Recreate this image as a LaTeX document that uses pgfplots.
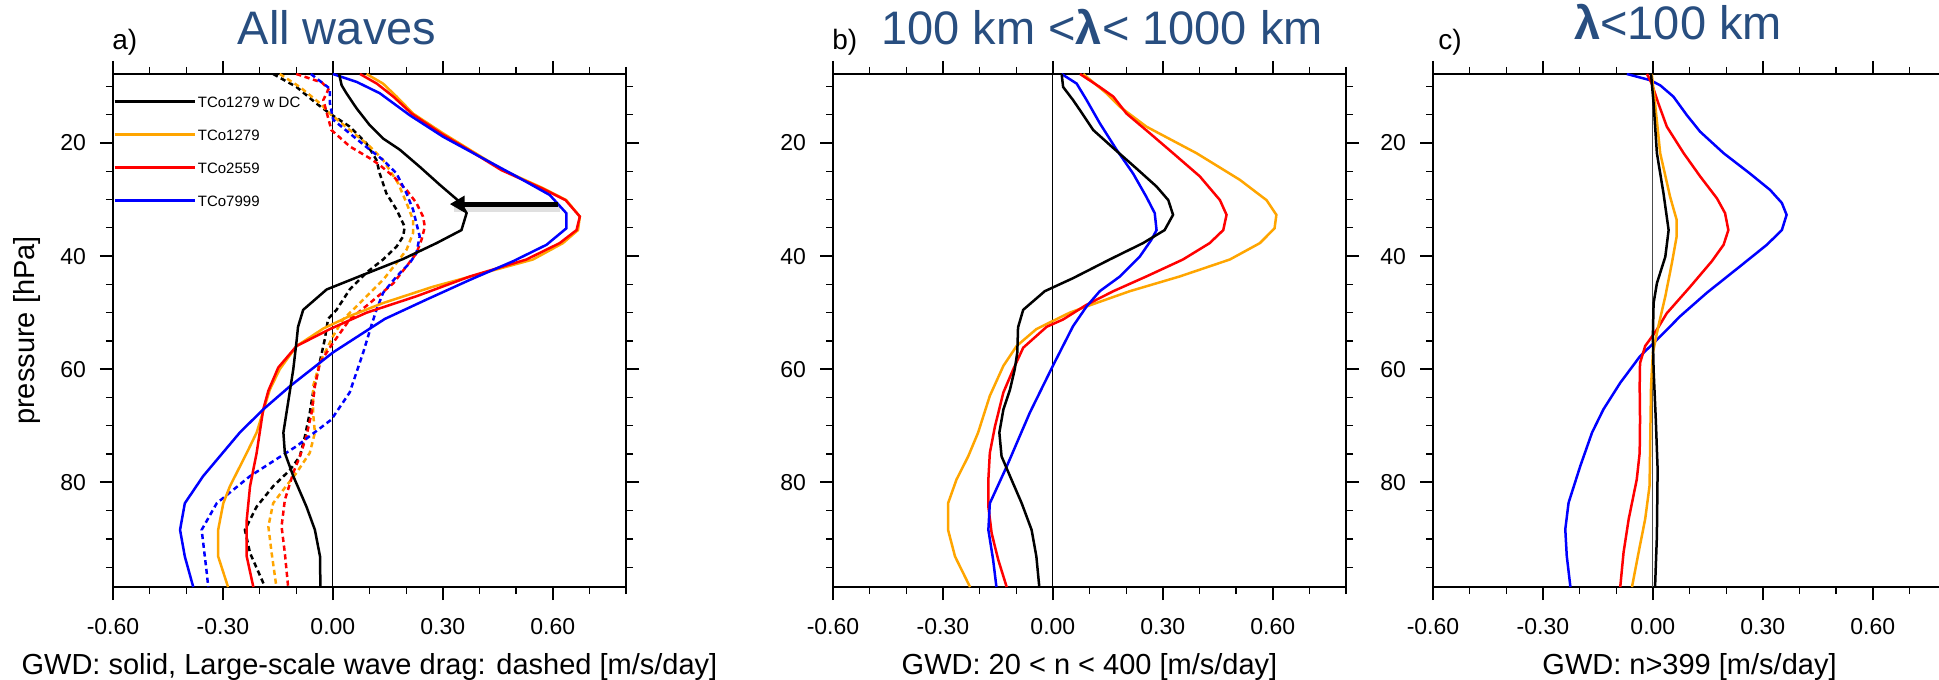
\documentclass[border=0pt]{standalone}
\usepackage{pgfplots}
\pgfplotsset{compat=1.18}
\usepackage{fontspec}
\setmainfont{Liberation Sans}
\usetikzlibrary{arrows.meta}
\definecolor{titleblue}{RGB}{40,78,128}
\definecolor{nclorange}{RGB}{255,165,0}

\pgfplotsset{
  gwd/.style={
    scale only axis, width=256.5pt, height=256.5pt,
    xmin=-0.6, xmax=0.8, ymin=7.8, ymax=98.5, y dir=reverse,
    xtick={-0.6,-0.3,0,0.3,0.6},
    xticklabels={-0.60,-0.30,0.00,0.30,0.60},
    minor xtick={-0.5,-0.4,-0.2,-0.1,0.1,0.2,0.4,0.5,0.7,0.8},
    ytick={20,40,60,80},
    minor ytick={10,15,25,30,35,45,50,55,65,70,75,85,90,95},
    tick align=outside,
    major tick length=6.5pt, minor tick length=3.5pt,
    major tick style={line width=1pt, black},
    minor tick style={line width=0.6pt, black},
    axis line style={line width=1.3pt},
    tick label style={font=\fontsize{11.5}{12}\selectfont},
    xticklabel style={yshift=-5.5pt},
    yticklabel style={xshift=-3.5pt},
    label style={font=\fontsize{14.5}{16}\selectfont},
    xlabel style={at={(axis description cs:0.5,-0.1696)}, anchor=base},
    /pgf/number format/assume math mode=true,
    every axis plot/.append style={line width=1.25pt},
  },
  dsh/.style={dash pattern=on 2.6pt off 1.8pt},
}

\begin{document}
\begin{tikzpicture}
\useasboundingbox (0,0) rectangle (969.5pt,340pt);

% ---------------- a) all waves
\begin{axis}[gwd, at={(56.5pt,46.5pt)}, anchor=south west,
  xlabel={GWD: solid, Large-scale wave drag: dashed [m/s/day]},
  ylabel={pressure [hPa]},
  ylabel style={at={(axis description cs:-0.1676,0.5)}, anchor=center},
  legend style={draw=none, fill=none, inner sep=0pt, at={(axis cs:-0.6,12.6)},
    anchor=north west, yshift=2.85pt, row sep=10.8pt, column sep=1pt,
    font=\fontsize{7.5}{8}\selectfont,
    nodes={inner sep=0pt, text height=5.7pt, text depth=0pt}},
  legend cell align=left,
  legend image code/.code={\draw[#1] (0pt,0pt) -- (40pt,0pt);},
]
\addlegendimage{black, line width=1.25pt}
\addlegendentry{TCo1279 w DC}
\addlegendimage{nclorange, line width=1.25pt}
\addlegendentry{TCo1279}
\addlegendimage{red, line width=1.25pt}
\addlegendentry{TCo2559}
\addlegendimage{blue, line width=1.25pt}
\addlegendentry{TCo7999}

\draw[line width=0.5pt] (axis cs:0,7.8) -- (axis cs:0,98.5);

% large-scale wave drag (dashed)
\addplot[forget plot, black, dsh] coordinates {
(-0.163,7.8) (-0.099,10.1) (-0.045,13) (-0.008,14.8) (0.046,17.1) (0.092,20.1)
(0.119,23) (0.128,25.4) (0.146,28.9) (0.174,31.8) (0.196,34.8) (0.192,36.5)
(0.174,38.3) (0.137,40.6) (0.092,42.9) (0.046,45.9) (0.01,49.5) (-0.013,51.1)
(-0.022,54.7) (-0.04,60) (-0.054,64.1) (-0.063,67.7) (-0.076,71.8) (-0.09,75.4)
(-0.117,77.8) (-0.163,80.7) (-0.208,84.3) (-0.24,88.4) (-0.226,92.5) (-0.185,98.5)};
\addplot[forget plot, nclorange, dsh] coordinates {
(-0.145,7.8) (-0.09,10.1) (-0.035,13) (-0.008,14.8) (0.046,17.7) (0.101,20.6)
(0.137,23) (0.155,24.8) (0.178,27.1) (0.201,30.6) (0.219,33.6) (0.219,35.9)
(0.201,38.9) (0.174,41.2) (0.137,44.2) (0.083,47.7) (0.028,51.2) (0.001,54.1)
(-0.035,58.8) (-0.054,63) (-0.054,67.7) (-0.049,71.2) (-0.063,74.8) (-0.099,78.3)
(-0.135,81.3) (-0.163,83.7) (-0.176,87.8) (-0.167,92.5) (-0.154,98.5)};
\addplot[forget plot, red, dsh] coordinates {
(-0.1,7.8) (-0.03,9.3) (-0.012,10.5) (-0.026,12.4) (-0.004,17.7) (0.046,20.6)
(0.101,22.7) (0.128,23.9) (0.165,25.9) (0.201,28.3) (0.228,30.6) (0.246,33)
(0.251,34.8) (0.242,37.1) (0.228,39.5) (0.201,41.8) (0.165,44.8) (0.101,48.3)
(0.046,51.2) (0.001,55.3) (-0.035,58.8) (-0.049,63) (-0.058,67.7) (-0.072,71.8)
(-0.09,75.4) (-0.108,78.3) (-0.131,83.1) (-0.14,87.8) (-0.131,92.5) (-0.122,98.5)};
\addplot[forget plot, blue, dsh] coordinates {
(-0.06,7.8) (-0.008,10.4) (-0.008,13) (0.001,15.9) (0.046,18.3) (0.101,21.2)
(0.137,23) (0.174,25.4) (0.201,28.9) (0.219,31.8) (0.228,34.2) (0.237,36.5)
(0.228,39.5) (0.21,41.2) (0.174,43.6) (0.137,46.5) (0.119,49.5) (0.105,52.3)
(0.083,57) (0.046,64.1) (-0.004,68.9) (-0.099,73.6) (-0.226,78.9) (-0.317,83.7)
(-0.358,88.4) (-0.345,95.5) (-0.34,98.5)};

% GWD (solid)
\addplot[forget plot, nclorange] coordinates {
(0.092,7.8) (0.137,9.5) (0.174,11.8) (0.219,14.8) (0.301,18.3) (0.374,21.2)
(0.465,24.8) (0.574,28) (0.637,30.1) (0.674,33) (0.669,35.4) (0.628,37.7)
(0.546,40.6) (0.41,43) (0.274,45.4) (0.137,48.3) (0.046,50.6) (-0.026,52.8)
(-0.099,55.9) (-0.145,60) (-0.172,63.6) (-0.208,71.2) (-0.235,74.8) (-0.281,80.7)
(-0.299,83.7) (-0.313,88.4) (-0.313,93.1) (-0.286,98.5)};
\addplot[forget plot, red] coordinates {
(0.074,7.8) (0.12,9.5) (0.165,11.8) (0.215,14.8) (0.295,18.3) (0.37,21.2)
(0.46,24.8) (0.57,28) (0.635,30.1) (0.674,33) (0.665,35.4) (0.619,37.7)
(0.528,40.6) (0.374,43.6) (0.228,47.1) (0.092,50) (-0.008,52.9) (-0.099,55.9)
(-0.149,59.7) (-0.176,63.8) (-0.19,67.1) (-0.208,74.8) (-0.226,80.7) (-0.235,86.6)
(-0.235,93.1) (-0.217,98.5)};
\addplot[forget plot, blue] coordinates {
(0.0,7.8) (0.065,9.2) (0.128,11.2) (0.21,15.1) (0.301,18.9) (0.392,22.1)
(0.501,25.9) (0.592,29.2) (0.637,32.4) (0.637,35.1) (0.583,38) (0.492,40.9)
(0.374,44.2) (0.255,47.7) (0.142,51.1) (0.001,57) (-0.117,63) (-0.19,67.1)
(-0.254,71.2) (-0.354,78.9) (-0.404,83.7) (-0.417,88.4) (-0.404,93.1) (-0.381,98.5)};
\addplot[forget plot, black] coordinates {
(0.017,7.8) (0.024,9.8) (0.037,11.2) (0.065,13.9) (0.10,16.8) (0.137,19.2)
(0.183,21.2) (0.237,24.2) (0.292,27.4) (0.346,30.4) (0.365,32.4) (0.351,35.4)
(0.283,37.7) (0.192,40.5) (0.083,43.3) (-0.017,45.9) (-0.081,49.5) (-0.095,52.5)
(-0.099,55) (-0.108,60) (-0.12,65) (-0.135,71.2) (-0.131,74.8) (-0.108,78.9)
(-0.072,84.3) (-0.049,88.4) (-0.035,93.1) (-0.034,98.5)};

% arrow annotation
\draw[line width=4pt, black, opacity=0.12] (axis cs:0.62,31.5) -- (axis cs:0.33,31.5);
\draw[line width=2.5pt, -{Triangle[length=7.5pt,width=8pt]}] (axis cs:0.615,30.8) -- (axis cs:0.319,30.8);
\end{axis}

% ---------------- b) 100 km < lambda < 1000 km
\begin{axis}[gwd, at={(416.5pt,46.5pt)}, anchor=south west,
  xlabel={GWD: 20 < n < 400 [m/s/day]}]
\draw[line width=0.5pt] (axis cs:0,7.8) -- (axis cs:0,98.5);
\addplot[nclorange] coordinates {
(0.083,7.8) (0.146,11.2) (0.183,13.6) (0.255,17.1) (0.392,21.8) (0.51,26.5)
(0.583,30.1) (0.61,32.7) (0.605,35.1) (0.565,37.7) (0.483,40.6) (0.346,43.6)
(0.21,46.2) (0.092,48.9) (0.046,50) (-0.045,52.9) (-0.099,55.9) (-0.135,59.4)
(-0.172,64.7) (-0.204,71.2) (-0.231,75.4) (-0.263,79.5) (-0.286,83.7) (-0.286,88.4)
(-0.267,93.1) (-0.226,98.5)};
\addplot[red] coordinates {
(0.074,7.8) (0.128,10.1) (0.165,11.8) (0.201,14.8) (0.265,18.3) (0.328,21.8)
(0.401,25.9) (0.456,30.1) (0.474,32.7) (0.465,35.4) (0.428,37.7) (0.355,40.6)
(0.255,43.6) (0.165,46.2) (0.092,48.6) (0.028,51.2) (-0.017,52.5) (-0.081,56.2)
(-0.108,60) (-0.135,64.1) (-0.158,70.1) (-0.172,74.8) (-0.176,79.5) (-0.176,84.3)
(-0.167,89) (-0.149,93.7) (-0.126,98.5)};
\addplot[blue] coordinates {
(0.024,7.8) (0.065,9.5) (0.092,12.4) (0.128,16.5) (0.174,21.2) (0.219,25.4)
(0.255,29.5) (0.278,32.4) (0.283,35.4) (0.269,37.1) (0.237,40.1) (0.183,43.6)
(0.128,46.2) (0.092,48.9) (0.055,52.4) (0,59.4) (-0.063,67.7) (-0.126,77.2)
(-0.172,83.7) (-0.176,88.4) (-0.163,93.7) (-0.154,98.5)};
\addplot[black] coordinates {
(0.024,7.8) (0.028,10.1) (0.055,12.4) (0.074,14.2) (0.11,17.7) (0.165,20.9)
(0.228,24.5) (0.283,27.7) (0.315,30.1) (0.328,32.7) (0.305,35.4) (0.246,37.7)
(0.155,40.6) (0.055,43.9) (-0.022,46.2) (-0.081,49.5) (-0.095,52.6) (-0.097,57)
(-0.104,60) (-0.117,63.6) (-0.135,67.1) (-0.146,71.2) (-0.14,75.4) (-0.117,78.9)
(-0.085,83.7) (-0.058,88.4) (-0.045,93.1) (-0.037,98.5)};
\end{axis}

% ---------------- c) lambda < 100 km
\begin{axis}[gwd, at={(716.5pt,46.5pt)}, anchor=south west,
  xlabel={GWD: n>399 [m/s/day]}]
\draw[line width=0.5pt, black!70] (axis cs:0,7.8) -- (axis cs:0,98.5);
\addplot[blue] coordinates {
(-0.071,7.8) (-0.007,8.9) (0.02,9.8) (0.056,11.8) (0.093,15.1) (0.129,18)
(0.193,21.8) (0.265,25.4) (0.32,28.3) (0.352,30.6) (0.365,32.7) (0.352,35.4)
(0.311,38) (0.238,41.8) (0.147,46.5) (0.075,50.6) (0.011,54.8) (-0.035,57.7)
(-0.089,62.4) (-0.135,67.1) (-0.166,71.2) (-0.198,77.1) (-0.23,83.6) (-0.239,88.3)
(-0.235,93) (-0.225,98.5)};
\addplot[red] coordinates {
(-0.016,7.8) (-0.003,9.5) (0.015,13) (0.038,17.1) (0.084,21.8) (0.129,25.9)
(0.175,29.8) (0.197,32.4) (0.206,35.4) (0.193,38) (0.161,40.9) (0.102,45.4)
(0.038,50.1) (0.011,53) (-0.021,55.9) (-0.035,58.9) (-0.036,63) (-0.035,68.9)
(-0.036,74.8) (-0.044,79.5) (-0.066,86.5) (-0.08,92.4) (-0.089,98.5)};
\addplot[nclorange] coordinates {
(-0.003,7.8) (0.006,13) (0.02,21.8) (0.047,29.5) (0.065,33.6) (0.065,36.5)
(0.052,41.2) (0.034,47.1) (0.015,52.4) (0,57.1) (-0.005,63) (-0.007,71.8)
(-0.009,80.6) (-0.021,86.5) (-0.039,92.4) (-0.057,98.5)};
\addplot[black] coordinates {
(-0.005,7.8) (0.002,13) (0.011,21.8) (0.029,28.9) (0.043,35.4) (0.034,40.1)
(0.011,44.8) (0.002,48.3) (0,54.2) (0.002,60.1) (0.008,68.9) (0.013,77.7)
(0.011,89.5) (0.006,98.5)};
\end{axis}

% titles and panel labels
\begin{scope}[every node/.style={text=titleblue, font=\fontsize{23.5}{26}\selectfont, anchor=base, inner sep=0pt}]
\node at (168.5pt,317.5pt) {All waves};
\node at (551pt,317.5pt) {100 km <\textbf{λ}< 1000 km};
\node at (839pt,320pt) {\textbf{λ}<100 km};
\end{scope}
\begin{scope}[every node/.style={font=\fontsize{14}{16}\selectfont, anchor=base west, inner sep=0pt}]
\node at (56pt,315pt) {a)};
\node at (416pt,315pt) {b)};
\node at (719pt,315pt) {c)};
\end{scope}
\end{tikzpicture}
\end{document}
